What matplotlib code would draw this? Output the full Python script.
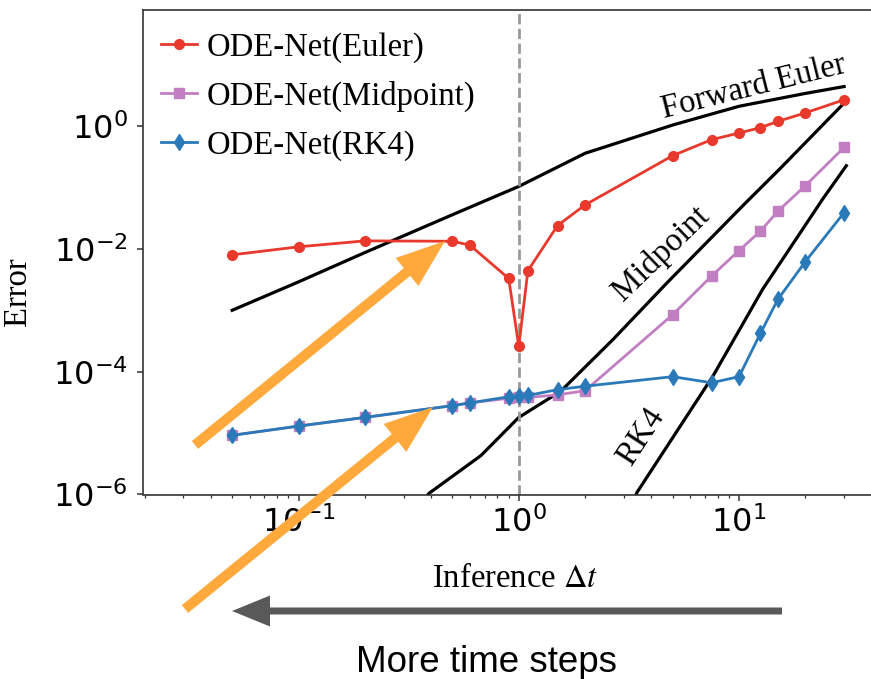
import numpy as np
import matplotlib
matplotlib.use('Agg')
import matplotlib.pyplot as plt
from matplotlib.patches import FancyArrow

plt.rcParams['font.family'] = ['Liberation Serif', 'DejaVu Serif']
plt.rcParams['mathtext.fontset'] = 'stix'

# ODE-Net errors for each inference step size
dt_net = [0.05, 0.1, 0.2, 0.5, 0.6, 0.9, 1.0, 1.1, 1.5, 2, 5, 7.5, 10, 12.5, 15, 20, 30]
err_euler = [8.0e-3, 1.08e-2, 1.35e-2, 1.33e-2, 1.15e-2, 3.3e-3, 2.6e-4, 4.4e-3, 2.4e-2,
             5.2e-2, 0.33, 0.60, 0.77, 0.94, 1.19, 1.64, 2.68]
err_midpoint = [9.2e-6, 1.3e-5, 1.8e-5, 2.8e-5, 3.1e-5, 3.7e-5, 3.8e-5, 3.8e-5, 4.2e-5,
                4.9e-5, 8.5e-4, 3.6e-3, 9.4e-3, 1.94e-2, 4.1e-2, 0.107, 0.45]
err_rk4 = [9.2e-6, 1.3e-5, 1.8e-5, 2.8e-5, 3.1e-5, 3.9e-5, 4.0e-5, 4.1e-5, 5.1e-5,
           5.8e-5, 8.3e-5, 6.6e-5, 8.3e-5, 4.2e-4, 1.5e-3, 6.2e-3, 3.9e-2]

# classical integrators (reference curves)
dt_fe = [0.05, 0.1, 0.2, 0.5, 1, 2, 5, 10, 20, 30]
err_fe = [1.0e-3, 2.9e-3, 8.7e-3, 3.6e-2, 0.104, 0.36, 1.04, 2.1, 3.4, 4.4]
dt_mp = [0.3, 0.392, 0.673, 1.0, 1.55, 2.69, 4.71, 10.6, 15.3, 30.7]
err_mp = [3.5e-7, 1.05e-6, 4.3e-6, 1.8e-5, 4.8e-5, 3.4e-4, 2.8e-3, 5.4e-2, 0.20, 2.58]
dt_rk = [3.0, 3.44, 7.63, 12.8, 24, 30.7]
err_rk = [3.0e-7, 1.08e-6, 8.6e-5, 2.2e-3, 6.5e-2, 0.226]

red = '#e8392c'
purple = '#c17fc1'
blue = '#2a7ab9'
orange = '#ffa83c'

fig = plt.figure(figsize=(8.71, 6.79), dpi=100)
ax = fig.add_axes([143 / 871, 1 - 494.5 / 679, 737 / 871, 484.5 / 679])

ax.plot(dt_fe, err_fe, color='black', lw=2.3)
ax.plot(dt_mp, err_mp, color='black', lw=2.3)
ax.plot(dt_rk, err_rk, color='black', lw=2.3)
ax.axvline(1.0, color='#999999', ls='--', lw=2)

ax.plot(dt_net, err_euler, color=red, marker='o', ms=7, lw=2, label='ODE-Net(Euler)')
ax.plot(dt_net, err_midpoint, color=purple, marker='s', ms=7, lw=2, label='ODE-Net(Midpoint)')
ax.plot(dt_net, err_rk4, color=blue, marker='d', ms=8, lw=2, label='ODE-Net(RK4)')

ax.set_xscale('log')
ax.set_yscale('log')
ax.set_xlim(10 ** -1.706, 10 ** 1.64)
ax.set_ylim(1e-6, 10 ** 1.89)
ax.set_yticks([1e-6, 1e-4, 1e-2, 1e0])
ax.yaxis.set_minor_locator(matplotlib.ticker.NullLocator())

for side in ['left', 'bottom', 'top', 'right']:
    ax.spines[side].set_color('#333333')
    ax.spines[side].set_linewidth(1.2)
ax.tick_params(which='major', length=4.3, width=1.1, color='#333333',
               labelsize=23, labelfontfamily='DejaVu Sans')
ax.tick_params(axis='x', which='major', pad=4.5)
ax.tick_params(axis='y', which='major', pad=6.5)
ax.tick_params(which='minor', length=2.2, width=0.9, color='#333333')

ax.set_xlabel(r'Inference $\Delta t$', fontsize=23.5)
ax.xaxis.set_label_coords(0.505, -0.143)
ax.set_ylabel('Error', fontsize=23.5)
ax.yaxis.set_label_coords(-0.149, 0.419)

ax.text(11.7, 4.3, 'Forward Euler', fontsize=23.5, rotation=14,
        ha='center', va='center', rotation_mode='anchor')
ax.text(4.43, 8.3e-3, 'Midpoint', fontsize=23.5, rotation=44,
        ha='center', va='center', rotation_mode='anchor')
ax.text(3.6, 8.9e-6, 'RK4', fontsize=23.5, rotation=57,
        ha='center', va='center', rotation_mode='anchor')

ax.legend(loc='upper left', bbox_to_anchor=(0.025, 0.955), frameon=False, fontsize=23.5,
          handlelength=1.1, handletextpad=0.3, labelspacing=0.55,
          borderaxespad=0, borderpad=0)

# annotation arrows in figure pixels
fig.add_artist(FancyArrow(195, 234, 250, 204, width=10, head_width=36, head_length=49,
                          length_includes_head=True, color=orange, transform=None, lw=0))
fig.add_artist(FancyArrow(185, 70, 248, 202, width=10, head_width=36, head_length=49,
                          length_includes_head=True, color=orange, transform=None, lw=0))
fig.add_artist(FancyArrow(782, 68, -550, 0, width=7, head_width=31, head_length=38,
                          length_includes_head=True, color='#595959', transform=None, lw=0))

fig.text(486 / 871, 7 / 679, 'More time steps', fontsize=26.5, family='Liberation Sans',
         ha='center', va='baseline')

fig.savefig('out.png', dpi=100)
